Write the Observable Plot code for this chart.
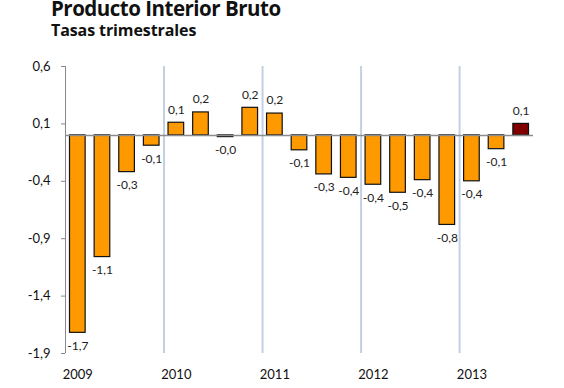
<!DOCTYPE html>
<html>
<head>
<meta charset="utf-8">
<script src="https://cdn.jsdelivr.net/npm/d3@7"></script>
<script src="https://cdn.jsdelivr.net/npm/@observablehq/plot@0.6"></script>
<style>
  html, body { margin: 0; padding: 0; background: #fff; }
  #wrap { position: relative; width: 564px; height: 388px; overflow: hidden; }
  #title { position: absolute; left: 51px; top: 0px; font-family: "Open Sans", sans-serif; font-weight: 700; font-size: 20.5px; line-height: 17px; letter-spacing: -0.5px; color: #111; white-space: nowrap; }
  #subtitle { position: absolute; left: 51px; top: 22px; font-family: "Open Sans", sans-serif; font-weight: 700; font-size: 16px; line-height: 16px; letter-spacing: -0.1px; color: #111; white-space: nowrap; }
  #chart { position: absolute; left: 0; top: 46px; }
</style>
</head>
<body>
<div id="wrap">
  <div id="title">Producto Interior Bruto</div>
  <div id="subtitle">Tasas trimestrales</div>
  <div id="chart"></div>
</div>
<script>
// Quarterly GDP growth rates, 2009 Q1 – 2013 Q3
const quarters = ["2009T1","2009T2","2009T3","2009T4","2010T1","2010T2","2010T3","2010T4","2011T1","2011T2","2011T3","2011T4","2012T1","2012T2","2012T3","2012T4","2013T1","2013T2","2013T3"];
const values = [-1.72,-1.06,-0.32,-0.09,0.11,0.20,-0.015,0.24,0.19,-0.13,-0.34,-0.37,-0.43,-0.50,-0.39,-0.78,-0.40,-0.12,0.10];
const years = ["2009","2010","2011","2012","2013"];
const yTicks = [0.6,0.1,-0.4,-0.9,-1.4,-1.9];

const data = quarters.map((q, i) => ({q, i, v: values[i], last: i === quarters.length - 1}));
const fmt = v => v.toFixed(1).replace(".", ",");
const yearStarts = years.map((y, k) => k * 4);

const chart = Plot.plot({
  width: 564,
  height: 342,
  marginTop: 20,
  marginBottom: 35,
  marginLeft: 65,
  marginRight: 31,
  style: {fontFamily: "Lato, sans-serif", fontSize: "13px", color: "#111", background: "#fff"},
  x: {domain: [0, quarters.length], axis: null},
  y: {domain: [-1.9, 0.6], axis: null},
  marks: [
    Plot.ruleX(yearStarts.slice(1), {stroke: "#c3d0e4", strokeWidth: 2}),
    Plot.rectY(data, {
      x1: d => d.i, x2: d => d.i + 1, y1: 0, y2: "v",
      insetLeft: 4.5, insetRight: 4.5,
      fill: d => d.last ? "#800000" : "#ff9900",
      stroke: "#111", strokeWidth: 1.2
    }),
    Plot.ruleY([0], {stroke: "#8c8c8c", strokeWidth: 1.5}),
    Plot.text(data, {
      x: d => d.i + 0.5, y: "v",
      text: d => fmt(d.v),
      fontSize: 12, fill: "#222"
    }),
    Plot.axisY({ticks: yTicks, tickFormat: fmt, tickSize: 4, tickPadding: 11, fontSize: 13, stroke: "#888", fill: "#111", label: null}),
    Plot.ruleX([0], {y1: -1.9, y2: 0.6, stroke: "#888", strokeWidth: 1}),
    Plot.axisX({ticks: yearStarts.map(s => s + 0.5), tickFormat: (t) => years[Math.floor(t / 4)], tickSize: 0, tickPadding: 16, fontSize: 13, fill: "#111", label: null})
  ]
});

// Offset value labels above positive bars and below negative bars
chart.querySelectorAll("g[aria-label='text'] text").forEach((t, k) => {
  const v = values[k];
  const y = +t.getAttribute("y") || 0;
  t.setAttribute("dy", "0.32em");
  t.setAttribute("y", y + (v >= 0 ? -13 : 13));
});
document.getElementById("chart").appendChild(chart);
</script>
</body>
</html>
